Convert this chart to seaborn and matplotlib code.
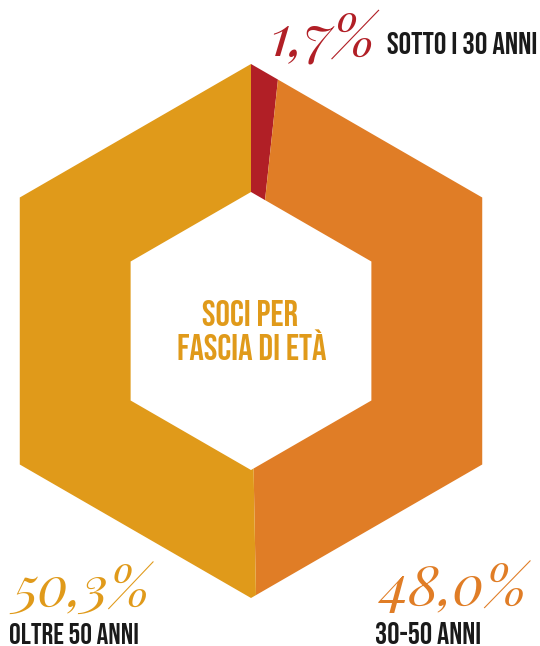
import numpy as np
import matplotlib
matplotlib.use("Agg")
import matplotlib.pyplot as plt
from matplotlib.path import Path
from matplotlib.patches import PathPatch
import seaborn as sns

# ---- data ----
categories = ["SOTTO I 30 ANNI", "30-50 ANNI", "OLTRE 50 ANNI"]
values = [1.7, 48.0, 50.3]
pct_labels = ["1,7%", "48,0%", "50,3%"]
title_lines = ["SOCI PER", "FASCIA DI ETÀ"]

colors = ["#B11F26", "#E07D26", "#E09A1A"]

sns.set_theme(style="white")
plt.rcParams["font.family"] = ["DejaVu Sans"]

W, H = 540, 646
fig = plt.figure(figsize=(W / 100, H / 100), dpi=100)
ax = fig.add_axes([0, 0, 1, 1])

cx, cy = 251, H - 331
R_out, R_in = 267, 139

wedges, _ = ax.pie(values, colors=colors, startangle=90, counterclock=False,
                   radius=340, center=(cx, cy), frame=True,
                   wedgeprops=dict(linewidth=0))
ax.set_xlim(0, W)
ax.set_ylim(0, H)
ax.set_aspect("equal")
ax.axis("off")

ang = np.deg2rad([90, 30, -30, -90, -150, 150])
outer = [(cx + R_out * np.cos(a), cy + R_out * np.sin(a)) for a in ang]
inner = [(cx + R_in * np.cos(a), cy + R_in * np.sin(a)) for a in ang][::-1]
verts = outer + [outer[0]] + inner + [inner[0]]
codes = ([Path.MOVETO] + [Path.LINETO] * 5 + [Path.CLOSEPOLY]) * 2
ring = Path(verts, codes)
clip = PathPatch(ring, transform=ax.transData, facecolor="none",
                 edgecolor="none", linewidth=0)
ax.add_patch(clip)
for w in wedges:
    w.set_clip_on(True)
    w.set_clip_path(clip)

serif = dict(family=["Playfair Display", "DejaVu Serif"], style="italic")
cond = dict(family=["Bebas Neue", "DejaVu Sans"])

def Y(y):
    return H - y

# percentages
ax.text(270, Y(55), pct_labels[0], color=colors[0], fontsize=41,
        ha="left", va="baseline", **serif)
ax.text(381, Y(605), pct_labels[1], color=colors[1], fontsize=40,
        ha="left", va="baseline", **serif)
ax.text(13, Y(607), pct_labels[2], color=colors[2], fontsize=39,
        ha="left", va="baseline", **serif)

# category labels
ax.text(387, Y(54), categories[0], color="#1a1a1a", fontsize=22.5,
        ha="left", va="baseline", **cond)
ax.text(375, Y(644), categories[1], color="#1a1a1a", fontsize=22,
        ha="left", va="baseline", **cond)
ax.text(9, Y(644), categories[2], color="#1a1a1a", fontsize=21,
        ha="left", va="baseline", **cond)

# center title
ax.text(250, Y(326), title_lines[0], color=colors[2], fontsize=26,
        ha="center", va="baseline", **cond)
ax.text(252, Y(360), title_lines[1], color=colors[2], fontsize=26,
        ha="center", va="baseline", **cond)

fig.savefig("out.png", dpi=100, facecolor="white")
